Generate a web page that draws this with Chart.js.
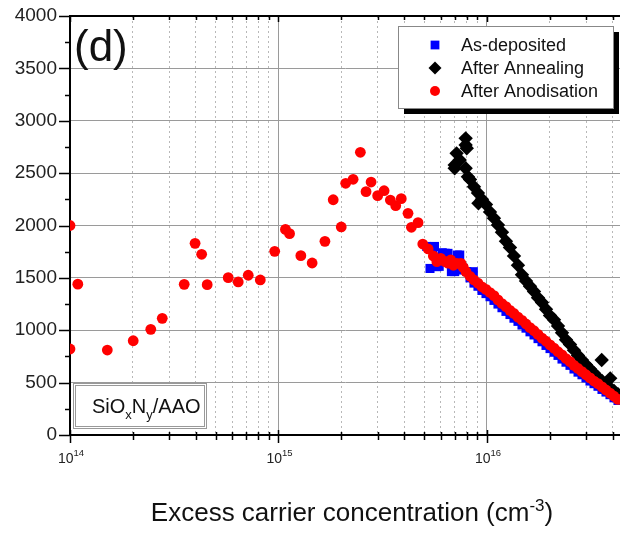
<!DOCTYPE html>
<html>
<head>
<meta charset="utf-8">
<script src="https://cdn.jsdelivr.net/npm/chart.js@4/dist/chart.umd.min.js"></script>
<style>
  html, body { margin: 0; padding: 0; background: #fff; overflow: hidden; }
  canvas { display: block; }
</style>
</head>
<body>
<canvas id="chart" width="620" height="534"></canvas>
<script>
const FONT = '"Liberation Sans", Arial, sans-serif'

// After Anodisation (red circles)
const anodisationX = [
  1.00e14, 1.00e14, 1.09e14, 1.51e14, 2.01e14, 2.44e14, 2.77e14, 3.53e14, 3.98e14, 4.28e14,
  4.55e14, 5.74e14, 6.41e14, 7.16e14, 8.18e14, 9.59e14, 1.08e15, 1.13e15, 1.28e15, 1.45e15,
  1.67e15, 1.83e15, 2.00e15, 2.10e15, 2.28e15, 2.47e15, 2.63e15, 2.78e15, 2.99e15, 3.21e15,
  3.44e15, 3.65e15, 3.88e15, 4.18e15, 4.34e15, 4.67e15, 4.92e15, 5.22e15, 5.53e15, 5.75e15,
  6.00e15, 6.30e15, 6.50e15, 6.70e15, 6.90e15, 7.16e15, 7.50e15, 7.70e15, 7.93e15, 8.29e15,
  8.66e15, 9.05e15, 9.46e15, 9.89e15, 1.034e16, 1.08e16, 1.129e16, 1.18e16, 1.233e16, 1.289e16,
  1.347e16, 1.408e16, 1.472e16, 1.539e16, 1.608e16, 1.681e16, 1.757e16, 1.836e16, 1.919e16, 2.006e16,
  2.096e16, 2.191e16, 2.29e16, 2.393e16, 2.501e16, 2.614e16, 2.733e16, 2.855e16, 2.984e16, 3.119e16,
  3.26e16, 3.407e16, 3.561e16, 3.722e16, 3.89e16, 4.066e16, 4.25e16
]
const anodisationY = [
  2000, 821, 1440, 811, 900, 1009, 1114, 1438, 1830, 1725,
  1435, 1502, 1461, 1525, 1480, 1753, 1963, 1922, 1712, 1642,
  1849, 2246, 1986, 2403, 2441, 2699, 2323, 2415, 2285, 2332,
  2243, 2189, 2256, 2116, 1983, 2027, 1823, 1776, 1709, 1655,
  1687, 1655, 1640, 1671, 1620, 1639, 1639, 1600, 1560, 1515,
  1480, 1450, 1415, 1390, 1360, 1330, 1290, 1255, 1225, 1190,
  1160, 1125, 1095, 1060, 1025, 995, 960, 925, 895, 860,
  830, 795, 765, 730, 700, 665, 635, 605, 575, 545,
  515, 490, 460, 430, 400, 370, 340
]

// As-deposited (blue squares)
const depositedX = [
  5.14e15, 5.33e15, 5.50e15, 5.60e15, 5.75e15, 5.90e15, 6.10e15, 6.30e15, 6.50e15, 6.75e15,
  7.00e15, 7.20e15, 7.40e15, 7.40e15, 7.70e15, 8.00e15, 8.29e15, 8.60e15, 8.66e15, 9.05e15,
  9.46e15, 9.89e15, 1.034e16, 1.08e16, 1.129e16, 1.18e16, 1.233e16, 1.289e16, 1.347e16, 1.408e16,
  1.472e16, 1.539e16, 1.608e16, 1.681e16, 1.757e16, 1.836e16, 1.919e16, 2.006e16, 2.096e16, 2.191e16,
  2.29e16, 2.393e16, 2.501e16, 2.614e16, 2.733e16, 2.855e16, 2.984e16, 3.119e16, 3.26e16, 3.407e16,
  3.561e16, 3.722e16, 3.89e16, 4.066e16, 4.25e16
]
const depositedY = [
  1800, 1590, 1770, 1800, 1607, 1610, 1740, 1735, 1734, 1560,
  1560, 1718, 1718, 1575, 1590, 1560, 1500, 1559, 1450, 1420,
  1380, 1350, 1320, 1285, 1250, 1215, 1180, 1150, 1115, 1085,
  1050, 1020, 985, 955, 920, 890, 855, 825, 790, 760,
  725, 695, 665, 630, 600, 575, 545, 515, 490, 465,
  435, 410, 385, 355, 330
]

// After Annealing (black diamonds)
const annealingX = [
  7.00e15, 7.00e15, 7.15e15, 7.40e15, 7.90e15, 7.90e15, 8.00e15, 7.90e15, 8.10e15, 8.29e15,
  8.66e15, 9.05e15, 9.10e15, 9.46e15, 9.89e15, 1.034e16, 1.08e16, 1.129e16, 1.18e16, 1.233e16,
  1.289e16, 1.347e16, 1.408e16, 1.472e16, 1.539e16, 1.608e16, 1.681e16, 1.757e16, 1.836e16, 1.919e16,
  2.006e16, 2.096e16, 2.191e16, 2.29e16, 2.393e16, 2.501e16, 2.614e16, 2.733e16, 2.855e16, 2.984e16,
  3.119e16, 3.26e16, 3.407e16, 3.55e16, 3.561e16, 3.722e16, 3.89e16, 3.90e16, 4.066e16, 4.25e16
]
const annealingY = [
  2578, 2546, 2689, 2625, 2832, 2768, 2737, 2546, 2466, 2440,
  2370, 2310, 2212, 2250, 2200, 2130, 2070, 2005, 1935, 1850,
  1790, 1710, 1620, 1530, 1470, 1420, 1370, 1310, 1265, 1200,
  1140, 1100, 1040, 975, 910, 865, 810, 760, 715, 670,
  630, 590, 550, 716, 515, 480, 450, 541, 420, 390
]

const xMin = 1e14
const xMax = 4.345e16
const yMin = 0
const yMax = 4000
const yStep = 250

const toPoints = (xs, ys) => xs.map((x, i) => ({ x, y: ys[i] }))

function mantissa(v) {
  return v / Math.pow(10, Math.floor(Math.log10(v) + 1e-9))
}
function isDecade(v) {
  return Math.abs(mantissa(v) - 1) < 1e-6
}
function isWhole(v) {
  const m = mantissa(v)
  return Math.abs(m - Math.round(m)) < 1e-6
}

// draw a run of [text, size, raise] pieces starting at x
function drawRich(ctx, parts, x, y) {
  parts.forEach(([s, size, dy]) => {
    ctx.font = size + "px " + FONT
    ctx.fillText(s, x, y + dy)
    x += ctx.measureText(s).width
  })
}
function richWidth(ctx, parts) {
  return parts.reduce((w, [s, size]) => { ctx.font = size + "px " + FONT; return w + ctx.measureText(s).width }, 0)
}

// axis frame: top line, tick marks, decade labels and axis title
const frameTicks = {
  id: "frameTicks",
  afterDraw(chart) {
    const { ctx, chartArea: a, scales: { x, y } } = chart
    ctx.save()
    ctx.strokeStyle = "#000"
    ctx.lineWidth = 2
    ctx.beginPath()
    ctx.moveTo(a.left - 1, a.top)
    ctx.lineTo(a.right, a.top)
    ctx.stroke()
    ctx.lineWidth = 1.5
    ctx.beginPath()
    x.ticks.forEach(t => {
      const px = Math.round(x.getPixelForValue(t.value)) + 0.5
      const major = isDecade(t.value)
      ctx.moveTo(px, a.bottom - (major ? 5 : 3))
      ctx.lineTo(px, a.bottom + (major ? 8 : 5))
      ctx.moveTo(px, a.top)
      ctx.lineTo(px, a.top + (major ? 6 : 4))
    })
    y.ticks.forEach(t => {
      const py = Math.round(y.getPixelForValue(t.value)) + 0.5
      const major = t.value % 500 === 0
      ctx.moveTo(a.left, py)
      ctx.lineTo(a.left - (major ? 11 : 5), py)
    })
    ctx.stroke()

    ctx.fillStyle = "#222"
    ctx.textBaseline = "alphabetic"
    x.ticks.filter(t => isDecade(t.value)).forEach(t => {
      const px = x.getPixelForValue(t.value)
      const exp = String(Math.round(Math.log10(t.value)))
      drawRich(ctx, [["10", 14, 0], [exp, 9.5, -7]], px - 12, 463)
    })

    const title = [["Excess carrier concentration (cm", 26, 0], ["-3", 17, -10], [")", 26, 0]]
    ctx.fillStyle = "#111"
    drawRich(ctx, title, 352 - richWidth(ctx, title) / 2, 521)
    ctx.restore()
  }
}

// panel label, sample box and legend box in Origin style
const overlays = {
  id: "overlays",
  afterDraw(chart) {
    const { ctx } = chart
    ctx.save()

    ctx.fillStyle = "#111"
    ctx.font = "44px " + FONT
    ctx.textBaseline = "alphabetic"
    ctx.fillText("(d)", 74, 61)

    // SiOxNy/AAO box
    ctx.fillStyle = "#fff"
    ctx.fillRect(73, 383, 133, 45)
    ctx.strokeStyle = "#999"
    ctx.lineWidth = 1
    ctx.strokeRect(73.5, 383.5, 133, 45)
    ctx.strokeRect(75.5, 385.5, 129, 41)
    ctx.fillStyle = "#111"
    drawRich(ctx, [["SiO", 20, 0], ["x", 13, 6], ["N", 20, 0], ["y", 13, 6], ["/AAO", 20, 0]], 92, 413)

    // legend
    const lx = 398, ly = 26, lw = 215, lh = 82
    ctx.fillStyle = "#000"
    ctx.fillRect(lx + 6, ly + 6, lw, lh)
    ctx.fillStyle = "#fff"
    ctx.fillRect(lx, ly, lw, lh)
    ctx.strokeStyle = "#888"
    ctx.strokeRect(lx + 0.5, ly + 0.5, lw, lh)
    ctx.font = "18px " + FONT
    ctx.textBaseline = "middle"
    const items = chart.data.datasets.slice().sort((p, q) => p.legendRank - q.legendRank)
    items.forEach((ds, i) => {
      const cy = 45 + i * 23
      ctx.fillStyle = ds.backgroundColor
      ctx.strokeStyle = ds.backgroundColor
      Chart.helpers.drawPoint(ctx, { pointStyle: ds.pointStyle, radius: ds.legendRadius, rotation: 0, borderWidth: 0 }, 435, cy)
      ctx.fillStyle = "#111"
      ctx.fillText(ds.label, 461, cy + 1)
    })
    ctx.restore()
  }
}

new Chart(document.getElementById("chart"), {
  type: "scatter",
  data: {
    datasets: [
      {
        label: "As-deposited", legendRank: 0, order: 2, legendRadius: 6.2,
        data: toPoints(depositedX, depositedY),
        pointStyle: "rect", pointRadius: 6.4, borderWidth: 0,
        backgroundColor: "#0000ff", borderColor: "#0000ff"
      },
      {
        label: "After Annealing", legendRank: 1, order: 1, legendRadius: 6.5,
        data: toPoints(annealingX, annealingY),
        pointStyle: "rectRot", pointRadius: 7.2, borderWidth: 0,
        backgroundColor: "#000000", borderColor: "#000000"
      },
      {
        label: "After Anodisation", legendRank: 2, order: 0, legendRadius: 5,
        data: toPoints(anodisationX, anodisationY),
        pointStyle: "circle", pointRadius: 5.4, borderWidth: 0,
        backgroundColor: "#ff0000", borderColor: "#ff0000"
      }
    ]
  },
  options: {
    responsive: false,
    animation: false,
    devicePixelRatio: 1,
    events: [],
    layout: { autoPadding: false, padding: { top: 16, right: 0, left: 0, bottom: 0 } },
    plugins: { legend: { display: false }, tooltip: { enabled: false } },
    scales: {
      x: {
        type: "logarithmic",
        min: xMin,
        max: xMax,
        afterBuildTicks: scale => { scale.ticks = scale.ticks.filter(t => isWhole(t.value) && t.value <= xMax) },
        afterFit: scale => {
          scale.height = 99
          scale.paddingLeft = 0
          scale.paddingRight = 0
        },
        border: {
          display: true, color: "#000", width: 2,
          dash: c => (c.tick && !isDecade(c.tick.value) ? [2, 3] : [])
        },
        grid: {
          drawTicks: false,
          color: c => (c.tick && isDecade(c.tick.value) ? "#9a9a9a" : "#b8b8b8"),
          lineWidth: 1
        },
        ticks: { display: false, autoSkip: false, maxRotation: 0 }
      },
      y: {
        min: yMin,
        max: yMax,
        afterFit: scale => {
          scale.width = 70
          scale.paddingTop = 0
          scale.paddingBottom = 0
        },
        border: { display: true, color: "#000", width: 2 },
        grid: {
          drawTicks: false,
          color: c => (c.tick && c.tick.value % 500 === 0 ? "#9a9a9a" : "rgba(0,0,0,0)"),
          lineWidth: 1
        },
        ticks: {
          stepSize: yStep,
          padding: 13,
          color: "#222",
          font: { family: FONT, size: 19 },
          callback: v => (v % 500 === 0 ? String(v) : "")
        }
      }
    }
  },
  plugins: [frameTicks, overlays]
})
</script>
</body>
</html>
